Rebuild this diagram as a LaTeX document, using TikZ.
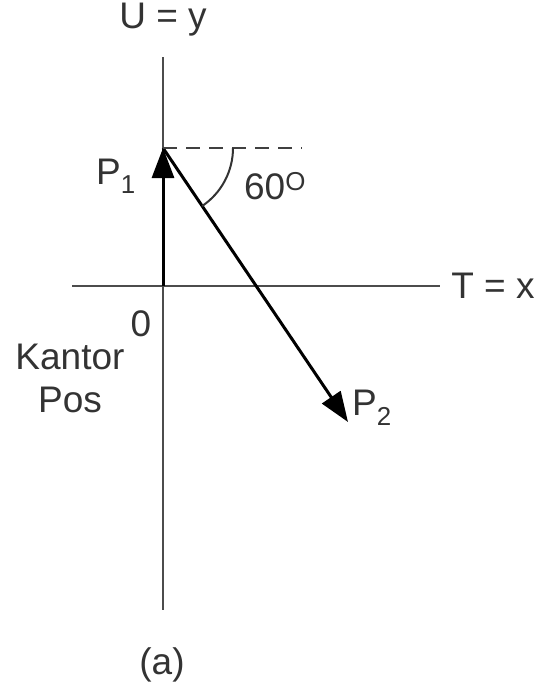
\documentclass[tikz,border=0pt]{standalone}
\usepackage{fontspec}
\setmainfont{Liberation Sans}
\usetikzlibrary{arrows.meta}
\begin{document}
\begin{tikzpicture}[x=1pt,y=-1pt,
  lbl/.style={inner sep=0pt,font=\fontsize{37}{44}\selectfont,text=black!80},
  axis/.style={draw=black!70,line width=2pt},
  vec/.style={draw=black,line width=3pt,-{Triangle[length=30pt,width=22pt]}}]
\useasboundingbox (0,0) rectangle (546,696);
\coordinate (O) at (163,286);
\coordinate (P1) at (163,148);
\coordinate (P2) at (348,422);
\coordinate (ytop) at (163,57);
\coordinate (ybot) at (163,610);
\coordinate (xl) at (72,286);
\coordinate (xr) at (440,286);
\coordinate (dashend) at (302,148);
\draw[axis] (ytop) -- (ybot);
\draw[axis] (xl) -- (xr);
\draw[vec] (O) -- (P1);
\draw[vec] (P1) -- (P2);
\draw[draw=black!75,line width=2pt,dash pattern=on 14pt off 9pt] (P1) -- (dashend);
\draw[draw=black!80,line width=2pt] (233,148) arc[start angle=0,end angle=56,radius=70];
\node[lbl] (U) at (163,20) {U = y};
\node[lbl] (T) at (493,286) {T = x};
\node[lbl] (p1) at (116,176) {P\textsubscript{1}};
\node[lbl] (ang) at (275,186) {60\textsuperscript{O}};
\node[lbl] (zero) at (141,324) {0};
\node[lbl] (K) at (70,357) {Kantor};
\node[lbl] (Pos) at (70,400) {Pos};
\node[lbl] (p2) at (372,408) {P\textsubscript{2}};
\node[lbl] (a) at (162,665) {(a)};
\end{tikzpicture}
\end{document}
